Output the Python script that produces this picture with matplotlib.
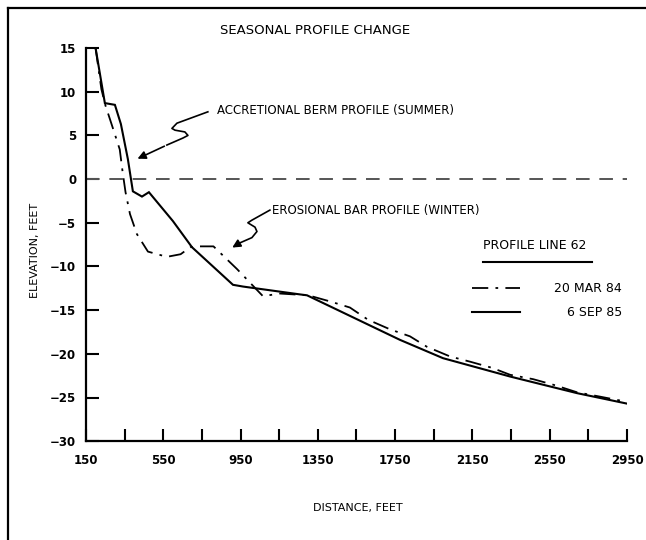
import matplotlib
matplotlib.use("Agg")
import matplotlib.pyplot as plt
from matplotlib.lines import Line2D

# 6 SEP 85 survey (solid)
sep85_dist = [200, 248, 300, 331, 367, 393, 440, 476, 600, 699, 911, 963,
              1258, 1294, 1775, 1998, 2345, 2691, 2950]
sep85_elev = [15.0, 8.7, 8.5, 6.3, 2.3, -1.4, -2.0, -1.5, -4.8, -7.8, -12.1, -12.3,
              -13.2, -13.3, -18.4, -20.5, -22.6, -24.5, -25.7]

# 20 MAR 84 survey (dash-dot)
mar84_dist = [200, 230, 250, 290, 325, 340, 355, 378, 414, 471, 569, 640, 690,
              740, 810, 932, 1014, 1066, 1154, 1300, 1413, 1516, 1610, 1724,
              1827, 1915, 2034, 2138, 2251, 2345, 2464, 2578, 2691, 2810, 2950]
mar84_elev = [15.0, 10.3, 8.5, 5.8, 3.4, 0.8, -1.5, -4.0, -6.3, -8.3, -8.9, -8.6, -7.8,
              -7.7, -7.7, -10.3, -12.2, -13.4, -13.1, -13.3, -14.0, -14.7, -16.1, -17.2,
              -18.0, -19.2, -20.3, -20.9, -21.6, -22.4, -22.9, -23.6, -24.4, -24.9, -25.5]

x_major = list(range(150, 2951, 400))
x_minor = list(range(350, 2951, 400))
y_ticks = list(range(-30, 16, 5))

DASHDOT = (0, (9, 4, 1.5, 4))
FONT = "DejaVu Sans"

fig = plt.figure(figsize=(6.46, 5.4), dpi=100)
ax = fig.add_axes([0.133, 0.183, 0.8376, 0.728])

ax.plot(sep85_dist, sep85_elev, color="black", lw=1.5, solid_joinstyle="miter")
ax.plot(mar84_dist, mar84_elev, color="black", lw=1.3, linestyle=DASHDOT)
ax.axhline(0, color="#555555", lw=1.4, linestyle=(0, (7, 5)))

ax.set_xlim(150, 2950)
ax.set_ylim(-30, 15)
ax.set_xticks(x_major)
ax.set_xticks(x_minor, minor=True)
ax.set_yticks(y_ticks)
ax.set_xticklabels([str(v) for v in x_major], fontsize=8.5, fontweight="bold", family=FONT)
ax.set_yticklabels([str(v).replace("-", "\u2212") for v in y_ticks], fontsize=8.5,
                   fontweight="bold", family=FONT)
ax.tick_params(axis="both", which="both", direction="in", length=9, width=1.5, color="black")
ax.tick_params(axis="x", pad=9)
ax.tick_params(axis="y", pad=7)
for s in ["top", "right"]:
    ax.spines[s].set_visible(False)
for s in ["left", "bottom"]:
    ax.spines[s].set_linewidth(1.6)

# annotations with squiggle leaders
ax.text(828, 7.9, "ACCRETIONAL BERM PROFILE (SUMMER)", fontsize=8.5, family=FONT,
        ha="left", va="center")
sq1_x = [781, 621, 595, 611, 662, 678, 652, 569]
sq1_y = [7.7, 6.4, 5.8, 5.6, 5.4, 5.0, 4.7, 3.9]
ax.plot(sq1_x, sq1_y, color="black", lw=1.2)
ax.annotate("", xy=(404, 2.2), xytext=(569, 3.9),
            arrowprops=dict(arrowstyle="-|>", color="black", lw=1.2, mutation_scale=12))

ax.text(1113, -3.55, "EROSIONAL BAR PROFILE (WINTER)", fontsize=8.5, family=FONT,
        ha="left", va="center")
sq2_x = [1102, 1009, 988, 1025, 1035, 1009, 947]
sq2_y = [-3.55, -4.7, -5.0, -5.5, -6.0, -6.7, -7.3]
ax.plot(sq2_x, sq2_y, color="black", lw=1.2)
ax.annotate("", xy=(895, -8.0), xytext=(947, -7.3),
            arrowprops=dict(arrowstyle="-|>", color="black", lw=1.2, mutation_scale=12))

# hand drawn legend
ax.text(0.734, 0.499, "PROFILE LINE 62", transform=ax.transAxes, fontsize=9,
        family=FONT, ha="left", va="center")
ax.add_line(Line2D([0.734, 0.935], [0.455, 0.455], transform=ax.transAxes,
                   color="black", lw=1.5))
ax.add_line(Line2D([0.713, 0.802], [0.389, 0.389], transform=ax.transAxes,
                   color="black", lw=1.3, linestyle=DASHDOT))
ax.text(0.991, 0.389, "20 MAR 84", transform=ax.transAxes, fontsize=9,
        family=FONT, ha="right", va="center")
ax.add_line(Line2D([0.713, 0.802], [0.328, 0.328], transform=ax.transAxes,
                   color="black", lw=1.5))
ax.text(0.991, 0.328, "6 SEP 85", transform=ax.transAxes, fontsize=9,
        family=FONT, ha="right", va="center")

fig.text(0.488, 0.944, "SEASONAL PROFILE CHANGE", fontsize=9.5, family=FONT,
         ha="center", va="center")
fig.text(0.554, 0.06, "DISTANCE, FEET", fontsize=8, family=FONT, ha="center", va="center")
fig.text(0.054, 0.537, "ELEVATION, FEET", fontsize=8, family=FONT, ha="center",
         va="center", rotation=90)

# page frame (left and top edges)
fig.add_artist(Line2D([0.0124, 0.0124], [0.0, 0.985], color="black", lw=1.6))
fig.add_artist(Line2D([0.0124, 1.0], [0.985, 0.985], color="black", lw=1.6))

fig.savefig("out.png", dpi=100)
